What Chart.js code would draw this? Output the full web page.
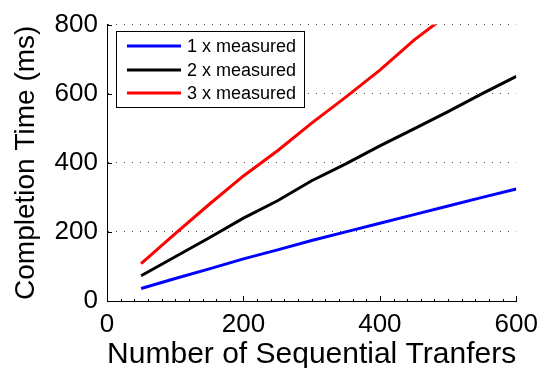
<!DOCTYPE html>
<html>
<head>
<meta charset="utf-8">
<script src="https://cdn.jsdelivr.net/npm/chart.js@4.4.1/dist/chart.umd.min.js"></script>
<style>
  html, body { margin: 0; padding: 0; background: #fff; }
  #wrap { width: 546px; height: 368px; }
</style>
</head>
<body>
<div id="wrap"><canvas id="chartCanvas" width="546" height="368"></canvas></div>
<script>
const transfers = [50, 100, 150, 200, 250, 300, 350, 400, 450, 500, 550, 600];
const measured1 = [36, 65, 93, 122, 148, 175, 200, 225, 250, 275, 300, 324];
const measured2 = [73, 128, 183, 240, 290, 348, 397, 449, 498, 548, 600, 650];
const measured3 = [108, 195, 280, 362, 435, 515, 590, 668, 755, 830];
const seriesNames = ['1 x measured', '2 x measured', '3 x measured'];
const seriesColors = ['#0000ff', '#000000', '#ff0000'];
const xTicks = [0, 200, 400, 600];
const yTicks = [0, 200, 400, 600, 800];

const FONT = '"Liberation Sans", Arial, sans-serif';

function toPoints(vals) {
  return vals.map((v, i) => ({ x: transfers[i], y: v }));
}

// inward matlab-style tick marks + boxed legend
const matlabBits = {
  id: 'matlabBits',
  afterDraw(chart) {
    const ctx = chart.ctx;
    const xs = chart.scales.x, ys = chart.scales.y;
    const a = chart.chartArea;
    ctx.save();
    ctx.strokeStyle = '#000';
    ctx.lineWidth = 1;
    ctx.beginPath();
    for (let v = 0; v <= 600; v += 20) {
      const px = Math.round(xs.getPixelForValue(v)) + 0.5;
      const len = xTicks.includes(v) ? 5 : 2;
      ctx.moveTo(px, a.bottom);
      ctx.lineTo(px, a.bottom - len);
    }
    yTicks.forEach(v => {
      const py = Math.round(ys.getPixelForValue(v)) + 0.5;
      ctx.moveTo(a.left, py);
      ctx.lineTo(a.left + 5, py);
    });
    ctx.stroke();

    // legend
    const bx = 116.5, by = 31.5, bw = 188, bh = 76;
    ctx.fillStyle = '#fff';
    ctx.fillRect(bx, by, bw, bh);
    ctx.strokeRect(bx, by, bw, bh);
    ctx.font = '18px ' + FONT;
    ctx.textBaseline = 'middle';
    const rows = [46, 70, 93];
    chart.data.datasets.forEach((ds, i) => {
      ctx.strokeStyle = ds.borderColor;
      ctx.lineWidth = 3;
      ctx.beginPath();
      ctx.moveTo(127, rows[i]);
      ctx.lineTo(181, rows[i]);
      ctx.stroke();
      ctx.fillStyle = '#000';
      ctx.fillText(ds.label, 187, rows[i] + 1);
    });
    ctx.restore();
  }
};

const ctx = document.getElementById('chartCanvas').getContext('2d');
const datasets = [measured1, measured2, measured3].map((vals, i) => ({
  label: seriesNames[i],
  data: toPoints(vals),
  borderColor: seriesColors[i],
  backgroundColor: seriesColors[i],
  borderWidth: 3,
  pointRadius: 0,
  tension: 0,
  fill: false
}));

new Chart(ctx, {
  type: 'line',
  data: { datasets },
  options: {
    responsive: false,
    animation: false,
    layout: { padding: { top: 23, right: 25, left: 0, bottom: 0 } },
    plugins: { legend: { display: false }, tooltip: { enabled: false } },
    scales: {
      x: {
        type: 'linear',
        min: 0, max: 600,
        afterBuildTicks: s => { s.ticks = xTicks.map(v => ({ value: v })); },
        afterFit: s => { s.height = 67; },
        grid: { display: false, drawTicks: false },
        border: { display: true, color: '#000', width: 1 },
        ticks: { color: '#000', padding: 8, maxRotation: 0, font: { family: FONT, size: 26 } },
        title: {
          display: true, text: 'Number of Sequential Tranfers', color: '#000',
          font: { family: FONT, size: 30 }, padding: { top: 0, bottom: -5 }
        }
      },
      y: {
        min: 0, max: 800,
        afterBuildTicks: s => { s.ticks = yTicks.map(v => ({ value: v })); },
        afterFit: s => { s.width = 107; },
        grid: { drawTicks: false, color: '#444', lineWidth: 1 },
        border: { display: true, color: '#000', width: 1, dash: [1, 7] },
        ticks: { color: '#000', padding: 9, font: { family: FONT, size: 26 } },
        title: {
          display: true, text: 'Completion Time (ms)', color: '#000',
          font: { family: FONT, size: 28 }, padding: { top: 9, bottom: 0 }
        }
      }
    }
  },
  plugins: [matlabBits]
});
</script>
</body>
</html>
